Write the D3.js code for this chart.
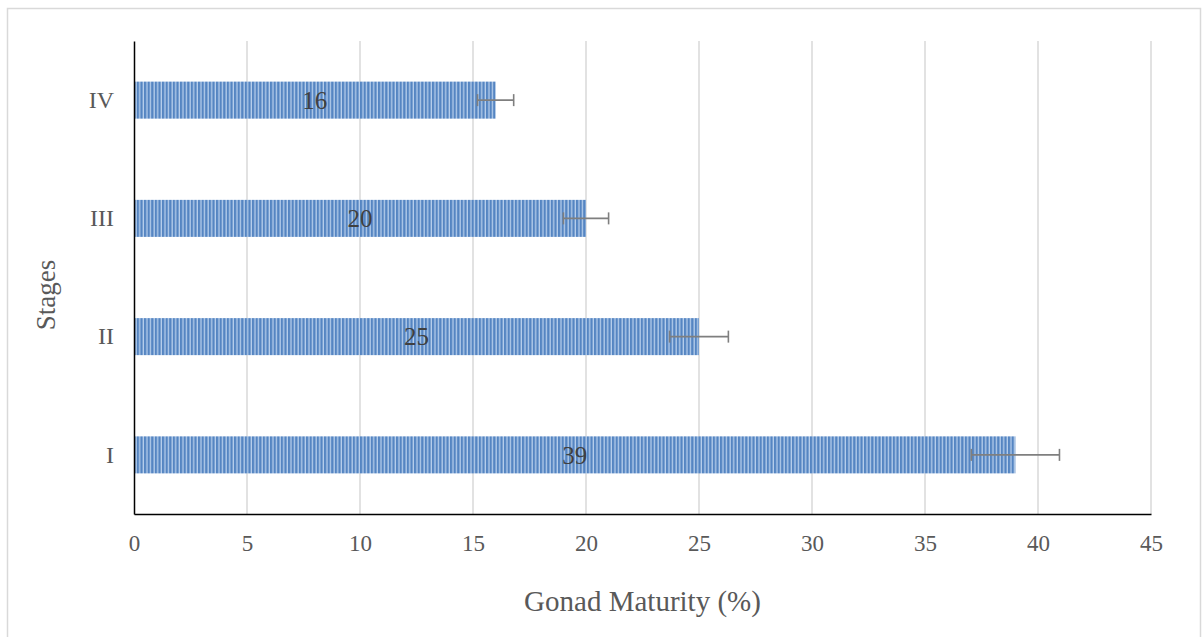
<!DOCTYPE html>
<html><head><meta charset="utf-8">
<script src="https://cdn.jsdelivr.net/npm/d3@7"></script>
<style>body{margin:0;background:#fff}svg{display:block}svg text{font-family:"Liberation Serif","Times New Roman",serif !important}</style>
</head><body><svg id="c" width="1202" height="637"></svg>
<script>
const stages = ["I","II","III","IV"];
const values = [39,25,20,16];
const errors = [1.95,1.3,1.0,0.8];
const xTicks = [0,5,10,15,20,25,30,35,40,45];
const xTitle = "Gonad Maturity (%)";
const yTitle = "Stages";

const svg = d3.select("#c");
const m = {l:134, r:1151, t:41, b:514};

const defs = svg.append("defs");
const pat = defs.append("pattern").attr("id","stripe").attr("patternUnits","userSpaceOnUse")
  .attr("width",3.6).attr("height",10);
pat.append("rect").attr("width",3.6).attr("height",10).attr("fill","#b8cfec");
pat.append("rect").attr("x",0).attr("width",2.3).attr("height",10).attr("fill","#5585c2");

svg.append("rect").attr("x",7.5).attr("y",8.5).attr("width",1193).attr("height",640)
  .attr("fill","none").attr("stroke","#d9d9d9").attr("stroke-width",1.5);

const x = d3.scaleLinear().domain([0,45]).range([m.l,m.r]);
const y = d3.scaleBand().domain(stages.slice().reverse()).range([m.t,m.b]).paddingInner(0.687).paddingOuter(0.3435);

svg.append("g").selectAll("line").data(xTicks.filter(d=>d>0)).join("line")
  .attr("x1",d=>x(d)).attr("x2",d=>x(d)).attr("y1",m.t).attr("y2",m.b)
  .attr("stroke","#d9d9d9").attr("stroke-width",1.5);

svg.append("g").selectAll("rect").data(stages).join("rect")
  .attr("x",x(0)).attr("y",(d)=>y(d)).attr("height",y.bandwidth())
  .attr("width",(d,i)=>x(values[i])-x(0)).attr("fill","url(#stripe)");

const eb = svg.append("g").attr("stroke","#7f7f7f").attr("stroke-width",1.6);
stages.forEach((s,i)=>{
  const cy = y(s)+y.bandwidth()/2;
  const x1 = x(values[i]-errors[i]), x2 = x(values[i]+errors[i]);
  eb.append("line").attr("x1",x1).attr("x2",x2).attr("y1",cy).attr("y2",cy);
  eb.append("line").attr("x1",x1).attr("x2",x1).attr("y1",cy-6).attr("y2",cy+6);
  eb.append("line").attr("x1",x2).attr("x2",x2).attr("y1",cy-6).attr("y2",cy+6);
});

svg.append("g").selectAll("text").data(stages).join("text")
  .attr("x",(d,i)=>x(values[i]/2)).attr("y",d=>y(d)+y.bandwidth()/2)
  .attr("dy","0.35em").attr("text-anchor","middle").attr("font-size",25).attr("fill","#404040")
  .text((d,i)=>values[i]);

const xa = svg.append("g").attr("transform",`translate(0,${m.b})`)
  .call(d3.axisBottom(x).tickValues(xTicks).tickSize(0).tickPadding(21));
xa.select(".domain").attr("stroke","#000").attr("stroke-width",1.5);
xa.selectAll("text").attr("font-size",23).attr("fill","#595959");

const ya = svg.append("g").attr("transform",`translate(${m.l},0)`)
  .call(d3.axisLeft(y).tickSize(0).tickPadding(20));
ya.select(".domain").attr("stroke","#000").attr("stroke-width",1.5);
ya.selectAll("text").attr("font-size",24).attr("fill","#595959");

svg.append("text").attr("x",(m.l+m.r)/2).attr("y",611).attr("text-anchor","middle")
  .attr("font-size",29).attr("fill","#595959").text(xTitle);
svg.append("text").attr("transform","translate(55,295) rotate(-90)").attr("text-anchor","middle")
  .attr("font-size",27).attr("fill","#595959").text(yTitle);
</script></body></html>
